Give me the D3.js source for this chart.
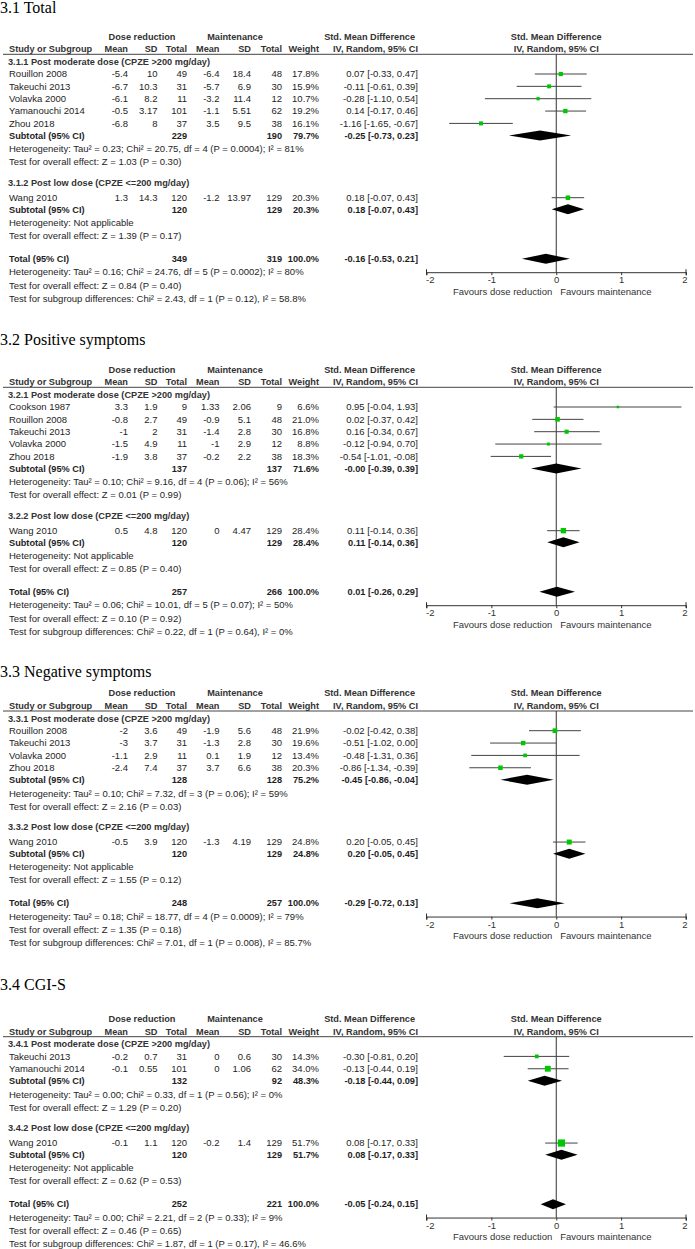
<!DOCTYPE html>
<html><head><meta charset="utf-8">
<script src="https://cdn.jsdelivr.net/npm/d3@7"></script>
<style>
body{margin:0;background:#fff}
svg{display:block}
text{font-family:"Liberation Sans",Arial,sans-serif}
</style>
</head><body>
<svg id="c" width="695" height="1249"></svg>
<script>
// ---------- shared labels ----------
const axisTicks = [-2, -1, 0, 1, 2];
const favoursLabels = ["Favours dose reduction", "Favours maintenance"];
const groupHeads = ["Dose reduction", "Maintenance", "Std. Mean Difference"];
const colHeads = ["Study or Subgroup", "Mean", "SD", "Total", "Mean", "SD", "Total", "Weight", "IV, Random, 95% CI"];
const plotHeads = ["Std. Mean Difference", "IV, Random, 95% CI"];

// ---------- 3.1 Total ----------
const totalTitle = "3.1 Total";
const totalGroups = ["3.1.1 Post moderate dose (CPZE >200 mg/day)", "3.1.2 Post low dose (CPZE <=200 mg/day)"];
// name, group, mean1, sd1, n1, mean2, sd2, n2, weight, smd, lo, hi
const totalStudies = [
  ["Rouillon 2008", 0, -5.4, 10, 49, -6.4, 18.4, 48, 17.8, 0.07, -0.33, 0.47],
  ["Takeuchi 2013", 0, -6.7, 10.3, 31, -5.7, 6.9, 30, 15.9, -0.11, -0.61, 0.39],
  ["Volavka 2000", 0, -6.1, 8.2, 11, -3.2, 11.4, 12, 10.7, -0.28, -1.10, 0.54],
  ["Yamanouchi 2014", 0, -0.5, 3.17, 101, -1.1, 5.51, 62, 19.2, 0.14, -0.17, 0.46],
  ["Zhou 2018", 0, -6.8, 8, 37, 3.5, 9.5, 38, 16.1, -1.16, -1.65, -0.67],
  ["Wang 2010", 1, 1.3, 14.3, 120, -1.2, 13.97, 129, 20.3, 0.18, -0.07, 0.43]
];
// n1, n2, weight, smd, lo, hi
const totalSubtotals = [[229, 190, 79.7, -0.25, -0.73, 0.23], [120, 129, 20.3, 0.18, -0.07, 0.43]];
const totalOverall = [349, 319, 100.0, -0.16, -0.53, 0.21];
const totalStats = [
  "Heterogeneity: Tau² = 0.23; Chi² = 20.75, df = 4 (P = 0.0004); I² = 81%",
  "Test for overall effect: Z = 1.03 (P = 0.30)",
  "Heterogeneity: Not applicable",
  "Test for overall effect: Z = 1.39 (P = 0.17)",
  "Heterogeneity: Tau² = 0.16; Chi² = 24.76, df = 5 (P = 0.0002); I² = 80%",
  "Test for overall effect: Z = 0.84 (P = 0.40)",
  "Test for subgroup differences: Chi² = 2.43, df = 1 (P = 0.12), I² = 58.8%"
];

// ---------- 3.2 Positive symptoms ----------
const posTitle = "3.2 Positive symptoms";
const posGroups = ["3.2.1 Post moderate dose (CPZE >200 mg/day)", "3.2.2 Post low dose (CPZE <=200 mg/day)"];
const posStudies = [
  ["Cookson 1987", 0, 3.3, 1.9, 9, 1.33, 2.06, 9, 6.6, 0.95, -0.04, 1.93],
  ["Rouillon 2008", 0, -0.8, 2.7, 49, -0.9, 5.1, 48, 21.0, 0.02, -0.37, 0.42],
  ["Takeuchi 2013", 0, -1, 2, 31, -1.4, 2.8, 30, 16.8, 0.16, -0.34, 0.67],
  ["Volavka 2000", 0, -1.5, 4.9, 11, -1, 2.9, 12, 8.8, -0.12, -0.94, 0.70],
  ["Zhou 2018", 0, -1.9, 3.8, 37, -0.2, 2.2, 38, 18.3, -0.54, -1.01, -0.08],
  ["Wang 2010", 1, 0.5, 4.8, 120, 0, 4.47, 129, 28.4, 0.11, -0.14, 0.36]
];
const posSubtotals = [[137, 137, 71.6, -0, -0.39, 0.39], [120, 129, 28.4, 0.11, -0.14, 0.36]];
const posOverall = [257, 266, 100.0, 0.01, -0.26, 0.29];
const posStats = [
  "Heterogeneity: Tau² = 0.10; Chi² = 9.16, df = 4 (P = 0.06); I² = 56%",
  "Test for overall effect: Z = 0.01 (P = 0.99)",
  "Heterogeneity: Not applicable",
  "Test for overall effect: Z = 0.85 (P = 0.40)",
  "Heterogeneity: Tau² = 0.06; Chi² = 10.01, df = 5 (P = 0.07); I² = 50%",
  "Test for overall effect: Z = 0.10 (P = 0.92)",
  "Test for subgroup differences: Chi² = 0.22, df = 1 (P = 0.64), I² = 0%"
];

// ---------- 3.3 Negative symptoms ----------
const negTitle = "3.3 Negative symptoms";
const negGroups = ["3.3.1 Post moderate dose (CPZE >200 mg/day)", "3.3.2 Post low dose (CPZE <=200 mg/day)"];
const negStudies = [
  ["Rouillon 2008", 0, -2, 3.6, 49, -1.9, 5.6, 48, 21.9, -0.02, -0.42, 0.38],
  ["Takeuchi 2013", 0, -3, 3.7, 31, -1.3, 2.8, 30, 19.6, -0.51, -1.02, 0.00],
  ["Volavka 2000", 0, -1.1, 2.9, 11, 0.1, 1.9, 12, 13.4, -0.48, -1.31, 0.36],
  ["Zhou 2018", 0, -2.4, 7.4, 37, 3.7, 6.6, 38, 20.3, -0.86, -1.34, -0.39],
  ["Wang 2010", 1, -0.5, 3.9, 120, -1.3, 4.19, 129, 24.8, 0.20, -0.05, 0.45]
];
const negSubtotals = [[128, 128, 75.2, -0.45, -0.86, -0.04], [120, 129, 24.8, 0.20, -0.05, 0.45]];
const negOverall = [248, 257, 100.0, -0.29, -0.72, 0.13];
const negStats = [
  "Heterogeneity: Tau² = 0.10; Chi² = 7.32, df = 3 (P = 0.06); I² = 59%",
  "Test for overall effect: Z = 2.16 (P = 0.03)",
  "Heterogeneity: Not applicable",
  "Test for overall effect: Z = 1.55 (P = 0.12)",
  "Heterogeneity: Tau² = 0.18; Chi² = 18.77, df = 4 (P = 0.0009); I² = 79%",
  "Test for overall effect: Z = 1.35 (P = 0.18)",
  "Test for subgroup differences: Chi² = 7.01, df = 1 (P = 0.008), I² = 85.7%"
];

// ---------- 3.4 CGI-S ----------
const cgiTitle = "3.4 CGI-S";
const cgiGroups = ["3.4.1 Post moderate dose (CPZE >200 mg/day)", "3.4.2 Post low dose (CPZE <=200 mg/day)"];
const cgiStudies = [
  ["Takeuchi 2013", 0, -0.2, 0.7, 31, 0, 0.6, 30, 14.3, -0.30, -0.81, 0.20],
  ["Yamanouchi 2014", 0, -0.1, 0.55, 101, 0, 1.06, 62, 34.0, -0.13, -0.44, 0.19],
  ["Wang 2010", 1, -0.1, 1.1, 120, -0.2, 1.4, 129, 51.7, 0.08, -0.17, 0.33]
];
const cgiSubtotals = [[132, 92, 48.3, -0.18, -0.44, 0.09], [120, 129, 51.7, 0.08, -0.17, 0.33]];
const cgiOverall = [252, 221, 100.0, -0.05, -0.24, 0.15];
const cgiStats = [
  "Heterogeneity: Tau² = 0.00; Chi² = 0.33, df = 1 (P = 0.56); I² = 0%",
  "Test for overall effect: Z = 1.29 (P = 0.20)",
  "Heterogeneity: Not applicable",
  "Test for overall effect: Z = 0.62 (P = 0.53)",
  "Heterogeneity: Tau² = 0.00; Chi² = 2.21, df = 2 (P = 0.33); I² = 9%",
  "Test for overall effect: Z = 0.46 (P = 0.65)",
  "Test for subgroup differences: Chi² = 1.87, df = 1 (P = 0.17), I² = 46.6%"
];

// ---------- layout ----------
const panels = [
  {title: totalTitle, groups: totalGroups, studies: totalStudies, subs: totalSubtotals, overall: totalOverall, stats: totalStats, L: 54.3, titleY: 12.5},
  {title: posTitle, groups: posGroups, studies: posStudies, subs: posSubtotals, overall: posOverall, stats: posStats, L: 387.3, titleY: 345},
  {title: negTitle, groups: negGroups, studies: negStudies, subs: negSubtotals, overall: negOverall, stats: negStats, L: 711, titleY: 677},
  {title: cgiTitle, groups: cgiGroups, studies: cgiStudies, subs: cgiSubtotals, overall: cgiOverall, stats: cgiStats, L: 1036.7, titleY: 990}
];

const svg = d3.select("#c");
const x = d3.scaleLinear().domain([-2, 2]).range([426.5, 686]);
const FS = 9.5, FSB = 9.2;
const TXT = "#1e1e1e", HDR = "#333";
const fmt2 = v => ((v < 0 || Object.is(v, -0)) ? "-" : "") + Math.abs(v).toFixed(2);
const ciText = (e, l, h) => `${fmt2(e)} [${fmt2(l)}, ${fmt2(h)}]`;
const colX = {m1: 128, sd1: 157.5, n1: 187, m2: 219.5, sd2: 251, n2: 282, w: 319, ci: 418};

function txt(g, xx, y, s, opt = {}) {
  return g.append("text").attr("x", xx).attr("y", y).attr("dy", "0.35em")
    .attr("text-anchor", opt.anchor || "start")
    .attr("font-size", opt.bold ? FSB : FS)
    .attr("font-weight", opt.bold ? "bold" : "normal")
    .attr("fill", opt.fill || TXT).text(s);
}

function diamond(g, y, e, l, h) {
  g.append("path")
    .attr("d", `M${x(l)},${y}L${x(e)},${y - 5}L${x(h)},${y}L${x(e)},${y + 5}Z`)
    .attr("fill", "#000");
}

function drawPanel(p) {
  const g = svg.append("g");
  const L = p.L;
  g.append("text").attr("x", 0).attr("y", p.titleY).text(p.title)
    .style("font-family", "'Liberation Serif','Times New Roman',serif")
    .attr("font-size", 16).attr("fill", "#000");

  // headers
  const h1 = L - 18, h2 = L - 5.3;
  txt(g, 142, h1, groupHeads[0], {bold: true, anchor: "middle", fill: HDR});
  txt(g, 235, h1, groupHeads[1], {bold: true, anchor: "middle", fill: HDR});
  txt(g, 415, h1, groupHeads[2], {bold: true, anchor: "end", fill: HDR});
  txt(g, 9, h2, colHeads[0], {bold: true, fill: HDR});
  const hx = [colX.m1, colX.sd1, colX.n1, colX.m2, colX.sd2, colX.n2, colX.w, colX.ci];
  hx.forEach((xx, i) => txt(g, xx, h2, colHeads[i + 1], {bold: true, anchor: "end", fill: HDR}));
  txt(g, x(0), h1, plotHeads[0], {bold: true, anchor: "middle", fill: HDR});
  txt(g, x(0), h2, plotHeads[1], {bold: true, anchor: "middle", fill: HDR});
  g.append("line").attr("x1", 3).attr("x2", 693).attr("y1", L).attr("y2", L)
    .attr("stroke", "#444").attr("stroke-width", 1);

  // row positions
  const step = 12.35;
  const g1 = p.studies.filter(d => d[1] === 0);
  const g2 = p.studies.filter(d => d[1] === 1);
  const rows = [];
  const head1 = L + 7.4;
  g1.forEach((d, i) => rows.push([d, L + 19.7 + i * step]));
  const sub1 = L + 19.7 + (g1.length - 1) * step + 12;
  const het1 = sub1 + 13.5, test1 = het1 + 13;
  const head2 = test1 + 21;
  const w0 = test1 + 35.8;
  g2.forEach((d, i) => rows.push([d, w0 + i * step]));
  const sub2 = w0 + (g2.length - 1) * step + 11.6;
  const het2 = sub2 + 13.3, test2 = het2 + 13;
  const tot = sub2 + 49.5;
  const het3 = tot + 13.3, test3 = tot + 26.6, sgd = tot + 39.6;
  const axisY = tot + 13.4;

  txt(g, 8, head1, p.groups[0], {bold: true, fill: HDR});
  txt(g, 8, head2, p.groups[1], {bold: true, fill: HDR});

  // zero line
  g.append("line").attr("x1", x(0)).attr("x2", x(0)).attr("y1", L).attr("y2", axisY)
    .attr("stroke", "#333").attr("stroke-width", 1);

  rows.forEach(([d, y]) => {
    txt(g, 9, y, d[0]);
    txt(g, colX.m1, y, String(d[2]), {anchor: "end"});
    txt(g, colX.sd1, y, String(d[3]), {anchor: "end"});
    txt(g, colX.n1, y, String(d[4]), {anchor: "end"});
    txt(g, colX.m2, y, String(d[5]), {anchor: "end"});
    txt(g, colX.sd2, y, String(d[6]), {anchor: "end"});
    txt(g, colX.n2, y, String(d[7]), {anchor: "end"});
    txt(g, colX.w, y, d[8].toFixed(1) + "%", {anchor: "end"});
    txt(g, colX.ci, y, ciText(d[9], d[10], d[11]), {anchor: "end"});
    g.append("line").attr("x1", x(d[10])).attr("x2", x(d[11])).attr("y1", y).attr("y2", y)
      .attr("stroke", "#444").attr("stroke-width", 1);
    const s = Math.max(2, Math.sqrt(d[8]) * 1.0);
    g.append("rect").attr("x", x(d[9]) - s / 2).attr("y", y - s / 2)
      .attr("width", s).attr("height", s).attr("fill", "#00c800");
  });

  const sumRow = (label, y, s) => {
    txt(g, 9, y, label, {bold: true});
    txt(g, colX.n1, y, String(s[0]), {anchor: "end", bold: true});
    txt(g, colX.n2, y, String(s[1]), {anchor: "end", bold: true});
    txt(g, colX.w, y, s[2].toFixed(1) + "%", {anchor: "end", bold: true});
    txt(g, colX.ci, y, ciText(s[3], s[4], s[5]), {anchor: "end", bold: true});
    diamond(g, y, s[3], s[4], s[5]);
  };
  sumRow("Subtotal (95% CI)", sub1, p.subs[0]);
  sumRow("Subtotal (95% CI)", sub2, p.subs[1]);
  sumRow("Total (95% CI)", tot, p.overall);

  [het1, test1, het2, test2, het3, test3, sgd].forEach((y, i) => txt(g, 9, y, p.stats[i]));

  // axis
  const ax = g.append("g").attr("transform", `translate(0,${axisY})`)
    .call(d3.axisBottom(x).tickValues(axisTicks).tickSize(3).tickSizeOuter(0).tickFormat(d => String(d)));
  ax.select(".domain").attr("stroke", "#333");
  ax.selectAll(".tick line").attr("stroke", "#333");
  ax.selectAll(".tick text").attr("font-size", FS).attr("fill", HDR)
    .attr("font-family", "'Liberation Sans',Arial,sans-serif").attr("y", 4.5)
    .attr("text-anchor", d => d === -2 ? "start" : d === 2 ? "end" : "middle")
    .attr("dx", d => d === -2 ? -1 : d === 2 ? 1 : 0);
  [-2, 2].forEach(v => ax.append("line").attr("x1", x(v)).attr("x2", x(v)).attr("y1", -3).attr("y2", 3).attr("stroke", "#333"));
  txt(g, x(0) - 4, axisY + 19.5, favoursLabels[0], {anchor: "end", fill: HDR});
  txt(g, x(0) + 4, axisY + 19.5, favoursLabels[1], {anchor: "start", fill: HDR});
}

panels.forEach(drawPanel);
</script>
</body></html>
